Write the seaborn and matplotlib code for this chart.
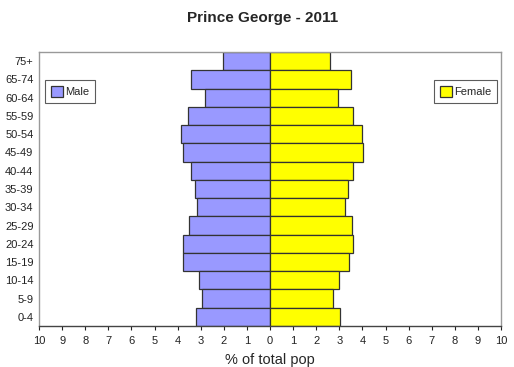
import matplotlib
matplotlib.use("Agg")
import matplotlib.pyplot as plt
import seaborn as sns
import pandas as pd

ages = ["75+", "65-74", "60-64", "55-59", "50-54", "45-49", "40-44", "35-39",
        "30-34", "25-29", "20-24", "15-19", "10-14", "5-9", "0-4"]
male = [2.05, 3.43, 2.83, 3.56, 3.87, 3.75, 3.43, 3.26, 3.15, 3.52, 3.78, 3.78, 3.09, 2.94, 3.22]
female = [2.6, 3.5, 2.93, 3.6, 3.97, 4.01, 3.6, 3.39, 3.26, 3.55, 3.6, 3.42, 2.99, 2.71, 3.02]
ticks = list(range(-10, 11))

df = pd.concat([
    pd.DataFrame({"age": ages, "sex": "Male", "value": [-v for v in male]}),
    pd.DataFrame({"age": ages, "sex": "Female", "value": female}),
])

sns.set_style("white")
plt.rcParams["font.family"] = ["Liberation Sans", "DejaVu Sans"]

fig = plt.figure(figsize=(5.14, 3.67), dpi=100)
ax = fig.add_axes([39/514, 1-326/367, (501-39)/514, (326-52)/367])
sns.barplot(data=df, x="value", y="age", hue="sex", order=ages,
            palette={"Male": "#9999ff", "Female": "#ffff00"}, saturation=1,
            orient="h", dodge=False, width=1.0, edgecolor="#333333",
            linewidth=0.9, ax=ax, legend=True)

ax.set_xlim(-10, 10)
ax.set_xticks(ticks)
ax.set_xticklabels([str(abs(t)) for t in ticks], fontsize=8, color="#222222")
ax.tick_params(axis="y", labelsize=8, colors="#222222", length=0, pad=4)
ax.tick_params(axis="x", length=3, width=0.8, direction="out", bottom=True, pad=4, colors="#222222")
ax.set_ylabel("")
ax.set_xlabel("% of total pop", fontsize=10.5, labelpad=5)
for s in ax.spines.values():
    s.set_color("#999999")
    s.set_linewidth(1)
ax.spines["bottom"].set_color("#444444")

handles, labels = ax.get_legend_handles_labels()
ax.get_legend().remove()
hmap = dict(zip(labels, handles))
common = dict(fontsize=8, frameon=True, fancybox=False, edgecolor="#333333",
              handlelength=1.1, handleheight=1.1, handletextpad=0.15,
              borderpad=0.55, borderaxespad=0)
leg1 = ax.legend([hmap["Male"]], ["Male"], loc="upper left",
                 bbox_to_anchor=((45-39)/462, 1-(80-52)/274), **common)
leg1.get_frame().set_linewidth(0.8)
ax.add_artist(leg1)
leg2 = ax.legend([hmap["Female"]], ["Female"], loc="upper right",
                 bbox_to_anchor=((497-39)/462, 1-(80-52)/274), **common)
leg2.get_frame().set_linewidth(0.8)

fig.text(0.51, 1-18/367, "Prince George - 2011", ha="center", va="center",
         fontsize=11, fontweight="bold")

fig.savefig("out.png", dpi=100)
